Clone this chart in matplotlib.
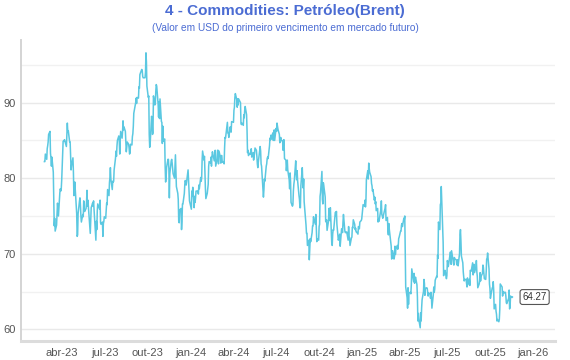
"""Brent front-month price line chart (Portuguese labels)."""

import matplotlib
matplotlib.use("Agg")
import matplotlib.pyplot as plt
import matplotlib.dates as mdates
from matplotlib.ticker import FuncFormatter, MultipleLocator, NullFormatter
import pandas as pd

plt.rcParams["font.family"] = ["Liberation Sans", "DejaVu Sans"]

TITLE = "4 - Commodities: Petróleo(Brent)"
SUBTITLE = "(Valor em USD do primeiro vencimento em mercado futuro)"

# month abbreviations for the x tick labels
pt_months = {1: "jan", 4: "abr", 7: "jul", 10: "out"}

# trading days per month and the price read for each day
months = [
    "2023-02", "2023-03", "2023-04", "2023-05", "2023-06", "2023-07",
    "2023-08", "2023-09", "2023-10", "2023-11", "2023-12",
    "2024-01", "2024-02", "2024-03", "2024-04", "2024-05", "2024-06",
    "2024-07", "2024-08", "2024-09", "2024-10", "2024-11", "2024-12",
    "2025-01", "2025-02", "2025-03", "2025-04", "2025-05", "2025-06",
    "2025-07", "2025-08", "2025-09", "2025-10", "2025-11",
]
days = [
    [22, 23, 24, 27, 28],
    [1, 2, 3, 6, 7, 8, 9, 10, 13, 14, 15, 16, 17, 20, 21, 22, 23, 24, 27, 28, 29, 30, 31],
    [3, 4, 5, 6, 10, 11, 12, 13, 14, 17, 18, 19, 20, 21, 24, 25, 26, 27, 28],
    [2, 3, 4, 5, 8, 9, 10, 11, 12, 15, 16, 17, 18, 19, 22, 23, 24, 25, 26, 30, 31],
    [1, 2, 5, 6, 7, 8, 9, 12, 13, 14, 15, 16, 20, 21, 22, 23, 26, 27, 28, 29, 30],
    [3, 5, 6, 7, 10, 11, 12, 13, 14, 17, 18, 19, 20, 21, 24, 25, 26, 27, 28, 31],
    [1, 2, 3, 4, 7, 8, 9, 10, 11, 14, 15, 16, 17, 18, 21, 22, 23, 24, 25, 28, 29, 30, 31],
    [1, 5, 6, 7, 8, 11, 12, 13, 14, 15, 18, 19, 20, 21, 22, 25, 26, 27, 28, 29],
    [2, 3, 4, 5, 6, 9, 10, 11, 12, 13, 16, 17, 18, 19, 20, 23, 24, 25, 26, 27, 30, 31],
    [1, 2, 3, 6, 7, 8, 9, 10, 13, 14, 15, 16, 17, 20, 21, 22, 24, 27, 28, 29, 30],
    [1, 4, 5, 6, 7, 8, 11, 12, 13, 14, 15, 18, 19, 20, 21, 22, 26, 27, 28, 29],
    [2, 3, 4, 5, 8, 9, 10, 11, 12, 16, 17, 18, 19, 22, 23, 24, 25, 26, 29, 30, 31],
    [1, 2, 5, 6, 7, 8, 9, 12, 13, 14, 15, 16, 20, 21, 22, 23, 26, 27, 28, 29],
    [1, 4, 5, 6, 7, 8, 11, 12, 13, 14, 15, 18, 19, 20, 21, 22, 25, 26, 27, 28],
    [1, 2, 3, 4, 5, 8, 9, 10, 11, 12, 15, 16, 17, 18, 19, 22, 23, 24, 25, 26, 29, 30],
    [1, 2, 3, 6, 7, 8, 9, 10, 13, 14, 15, 16, 17, 20, 21, 22, 23, 24, 28, 29, 30, 31],
    [3, 4, 5, 6, 7, 10, 11, 12, 13, 14, 17, 18, 19, 20, 21, 24, 25, 26, 27, 28],
    [1, 2, 3, 5, 8, 9, 10, 11, 12, 15, 16, 17, 18, 19, 22, 23, 24, 25, 26, 29, 30, 31],
    [1, 2, 5, 6, 7, 8, 9, 12, 13, 14, 15, 16, 19, 20, 21, 22, 23, 26, 27, 28, 29, 30],
    [3, 4, 5, 6, 9, 10, 11, 12, 13, 16, 17, 18, 19, 20, 23, 24, 25, 26, 27, 30],
    [1, 2, 3, 4, 7, 8, 9, 10, 11, 14, 15, 16, 17, 18, 21, 22, 23, 24, 25, 28, 29, 30, 31],
    [1, 4, 5, 6, 7, 8, 11, 12, 13, 14, 15, 18, 19, 20, 21, 22, 25, 26, 27, 29],
    [2, 3, 4, 5, 6, 9, 10, 11, 12, 13, 16, 17, 18, 19, 20, 23, 24, 26, 27, 30, 31],
    [2, 3, 6, 7, 8, 9, 10, 13, 14, 15, 16, 17, 20, 21, 22, 23, 24, 27, 28, 29, 30, 31],
    [3, 4, 5, 6, 7, 10, 11, 12, 13, 14, 18, 19, 20, 21, 24, 25, 26, 27, 28],
    [3, 4, 5, 6, 7, 10, 11, 12, 13, 14, 17, 18, 19, 20, 21, 24, 25, 26, 27, 28, 31],
    [1, 2, 3, 4, 7, 8, 9, 10, 11, 14, 15, 16, 17, 21, 22, 23, 24, 25, 28, 29, 30],
    [1, 2, 5, 6, 7, 8, 9, 12, 13, 14, 15, 16, 19, 20, 21, 22, 23, 26, 27, 28, 29, 30],
    [2, 3, 4, 5, 6, 9, 10, 11, 12, 13, 16, 17, 18, 19, 20, 23, 24, 25, 26, 27, 30],
    [1, 2, 3, 4, 7, 8, 9, 10, 11, 14, 15, 16, 17, 18, 21, 22, 23, 24, 25, 28, 29, 30, 31],
    [1, 4, 5, 6, 7, 8, 11, 12, 13, 14, 15, 18, 19, 20, 21, 22, 25, 26, 27, 28, 29],
    [1, 2, 3, 4, 5, 8, 9, 10, 11, 12, 15, 16, 17, 18, 19, 22, 23, 24, 25, 26, 29, 30],
    [1, 2, 3, 6, 7, 8, 9, 10, 13, 14, 15, 16, 17, 20, 21, 22, 23, 24, 27, 28, 29, 30, 31],
    [3, 4, 5, 6, 7, 10, 11, 12, 13, 14, 17, 18],
]
brent = [
    [82.2, 82.2, 83.2, 82.5, 83.9],
    [84.3, 84.8, 85.8, 86.2, 83.3, 82.7, 81.6, 82.8, 80.8, 77.5, 73.7, 74.7, 73.0, 73.8, 75.3, 76.7, 75.9, 75.0, 78.1, 78.6, 78.3, 78.6, 79.8],
    [84.9, 84.9, 85.0, 85.1, 84.2, 85.6, 87.3, 86.1, 86.3, 84.8, 84.8, 83.1, 81.1, 81.7, 82.7, 80.8, 77.7, 78.4, 79.5],
    [75.3, 72.3, 72.5, 75.3, 77.0, 77.4, 76.4, 75.0, 74.2, 75.2, 74.9, 77.0, 75.9, 75.6, 76.0, 76.8, 78.4, 76.3, 77.1, 73.5, 72.7],
    [74.3, 76.1, 76.7, 76.3, 77.0, 76.0, 74.8, 71.8, 74.3, 73.2, 75.7, 76.6, 75.9, 77.1, 74.1, 73.9, 74.2, 72.3, 74.0, 74.3, 74.9],
    [74.7, 76.7, 76.5, 78.5, 77.7, 79.4, 80.1, 81.4, 79.9, 78.5, 79.6, 79.5, 79.6, 81.1, 82.7, 83.6, 82.9, 84.2, 85.0, 85.6],
    [84.9, 83.2, 85.1, 86.2, 85.3, 86.2, 87.6, 86.4, 86.8, 86.2, 84.9, 83.5, 84.1, 84.8, 84.5, 84.0, 83.2, 83.4, 84.5, 84.4, 85.5, 85.9, 86.9],
    [88.6, 90.0, 90.6, 89.9, 90.7, 90.6, 92.1, 91.9, 93.7, 93.9, 94.4, 94.3, 93.5, 93.3, 93.3, 93.3, 94.0, 96.6, 95.4, 92.2],
    [90.7, 90.9, 85.8, 84.1, 84.6, 88.2, 87.7, 85.8, 86.0, 90.9, 89.7, 89.9, 91.5, 92.4, 92.2, 89.8, 88.1, 90.1, 87.9, 90.5, 87.5, 87.4],
    [84.6, 86.9, 84.9, 85.2, 81.6, 79.5, 80.0, 81.4, 82.5, 82.5, 81.2, 77.4, 80.6, 82.3, 82.5, 82.0, 80.6, 80.0, 81.7, 83.1, 80.9],
    [78.9, 78.0, 77.2, 74.3, 74.1, 75.8, 76.0, 73.2, 74.3, 76.6, 76.6, 78.0, 79.2, 79.7, 79.4, 79.1, 81.1, 79.7, 78.4, 77.0],
    [75.9, 78.3, 77.6, 78.8, 76.1, 77.6, 76.8, 77.4, 78.3, 78.3, 77.9, 79.1, 78.6, 80.1, 79.6, 80.0, 82.4, 83.6, 82.4, 82.9, 80.6],
    [78.7, 77.3, 78.0, 78.6, 79.2, 81.6, 82.2, 82.0, 82.8, 81.6, 82.9, 83.5, 82.3, 83.0, 83.7, 81.6, 82.5, 83.7, 83.7, 81.9],
    [83.6, 82.8, 82.0, 83.0, 83.0, 82.1, 82.2, 81.9, 84.0, 85.4, 85.3, 86.9, 87.4, 86.0, 86.0, 85.4, 86.8, 86.3, 86.1, 87.5],
    [87.4, 89.0, 89.4, 90.7, 91.2, 90.4, 89.4, 90.5, 89.7, 90.5, 90.1, 90.0, 87.3, 87.1, 87.3, 87.0, 88.4, 88.0, 89.0, 89.5, 88.4, 86.3],
    [83.4, 83.7, 83.0, 83.3, 83.2, 83.6, 83.9, 82.8, 83.4, 82.4, 82.8, 83.3, 84.0, 83.7, 82.9, 81.9, 81.4, 82.1, 84.2, 83.6, 81.9, 81.6],
    [78.4, 77.5, 78.4, 79.9, 79.6, 81.6, 81.9, 82.6, 82.8, 82.6, 84.3, 85.3, 85.1, 85.7, 85.2, 86.0, 85.0, 85.3, 86.4, 85.0],
    [86.6, 86.2, 87.3, 86.5, 85.8, 84.7, 85.1, 85.4, 85.0, 84.9, 83.7, 85.1, 85.1, 82.6, 82.4, 81.0, 81.7, 82.4, 81.1, 79.8, 78.6, 80.7],
    [79.5, 76.8, 76.3, 76.5, 78.3, 79.2, 79.7, 82.3, 80.7, 79.8, 81.0, 79.7, 77.7, 77.2, 76.1, 76.1, 79.0, 81.4, 79.6, 78.7, 79.9, 76.9],
    [73.8, 72.7, 72.7, 71.1, 71.8, 69.2, 70.6, 72.0, 71.6, 72.8, 73.7, 73.7, 74.9, 74.5, 73.9, 75.2, 73.5, 71.6, 72.0, 71.8],
    [73.6, 73.9, 77.6, 78.1, 80.9, 77.2, 76.6, 79.4, 79.0, 77.5, 74.3, 74.2, 74.5, 73.1, 74.3, 76.0, 75.0, 74.4, 76.1, 71.4, 71.1, 72.6, 73.2],
    [73.1, 75.1, 75.5, 75.0, 75.6, 73.9, 71.8, 72.0, 72.3, 72.6, 71.0, 73.3, 73.3, 72.8, 74.2, 75.2, 73.0, 72.8, 72.8, 72.9],
    [71.8, 73.6, 72.3, 72.1, 71.1, 72.1, 72.2, 73.5, 73.4, 74.5, 73.9, 73.2, 73.4, 72.9, 72.9, 72.6, 73.6, 73.3, 74.2, 74.4, 74.6],
    [75.9, 76.5, 76.3, 77.1, 76.2, 76.9, 79.8, 81.0, 79.9, 82.0, 81.3, 80.8, 80.2, 79.3, 79.0, 78.3, 78.5, 77.1, 77.5, 76.6, 76.9, 75.7],
    [76.0, 74.2, 74.6, 74.3, 74.7, 75.9, 77.0, 75.2, 75.0, 74.7, 75.8, 76.0, 76.5, 74.4, 74.8, 73.0, 72.5, 74.0, 73.2],
    [71.6, 71.0, 69.3, 69.5, 70.4, 69.3, 69.6, 71.0, 69.9, 70.6, 71.1, 70.6, 71.0, 72.0, 72.2, 73.0, 73.0, 73.8, 74.0, 73.6, 74.7],
    [74.5, 75.0, 70.1, 65.6, 64.2, 62.8, 65.5, 63.3, 64.8, 64.9, 64.7, 65.9, 68.0, 66.3, 67.4, 66.1, 66.6, 66.9, 65.9, 64.3, 61.1],
    [62.1, 61.3, 60.2, 62.2, 61.1, 62.8, 63.9, 65.0, 66.6, 66.1, 64.5, 65.4, 65.5, 65.4, 64.9, 64.4, 64.8, 64.7, 64.1, 64.9, 64.2, 62.8],
    [64.6, 65.6, 64.9, 65.3, 66.5, 67.0, 66.9, 69.8, 69.4, 74.2, 73.2, 76.5, 76.7, 78.9, 77.0, 71.5, 67.1, 67.7, 67.7, 67.8, 66.7],
    [67.1, 69.1, 68.8, 68.3, 69.6, 70.2, 70.2, 68.6, 70.4, 69.2, 68.7, 68.5, 69.5, 69.3, 69.2, 68.6, 68.5, 69.2, 68.4, 70.0, 72.5, 73.2, 71.7],
    [69.7, 68.8, 67.6, 66.9, 66.4, 66.6, 66.6, 66.1, 65.6, 66.8, 65.9, 66.6, 65.8, 67.8, 67.7, 67.7, 68.8, 67.2, 68.1, 68.6, 67.5],
    [68.2, 69.1, 67.6, 67.0, 65.5, 66.0, 66.4, 67.5, 66.4, 67.0, 67.4, 68.5, 68.2, 67.4, 66.7, 66.6, 67.6, 69.3, 69.4, 70.1, 68.0, 66.0],
    [65.4, 64.1, 64.5, 65.5, 65.5, 66.3, 65.2, 62.7, 63.3, 62.4, 62.0, 61.1, 61.3, 61.0, 61.3, 62.6, 66.0, 65.9, 65.6, 64.4, 64.9, 65.0, 64.8],
    [64.9, 64.4, 63.5, 63.4, 63.6, 64.1, 65.2, 62.7, 63.0, 64.4, 64.2, 64.27],
]

records = []
for month, ds, vs in zip(months, days, brent, strict=True):
    for d, v in zip(ds, vs, strict=True):
        records.append((pd.Timestamp(f"{month}-{d:02d}"), v))
df = pd.DataFrame(records, columns=["date", "price"])

LINE = "#5bc8e1"
BLUE = "#4b6cd3"

fig = plt.figure(figsize=(5.7, 3.6), dpi=100)
ax = fig.add_axes([21 / 570, 1 - 341 / 360, (555 - 21) / 570, (341 - 40) / 360])

ax.plot(df["date"], df["price"], color=LINE, linewidth=1.1)

ax.set_xlim(pd.Timestamp("2023-01-03"), pd.Timestamp("2026-02-17"))
ax.set_ylim(58.45, 98.3)

ax.xaxis.set_major_locator(mdates.MonthLocator(bymonth=list(pt_months)))


def _fmt_date(x, pos):
    d = mdates.num2date(x)
    return f"{pt_months.get(d.month, '')}-{d.year % 100:02d}"


ax.xaxis.set_major_formatter(FuncFormatter(_fmt_date))
ax.yaxis.set_major_locator(MultipleLocator(10))
ax.yaxis.set_minor_locator(MultipleLocator(5))
ax.yaxis.set_minor_formatter(NullFormatter())

ax.set_axisbelow(True)
ax.grid(which="major", axis="y", color="#e9e9e9", linewidth=1.0)
ax.grid(which="minor", axis="y", color="#f1f1f1", linewidth=1.0)
ax.tick_params(which="both", length=0, labelsize=8, labelcolor="#555555")
ax.tick_params(axis="x", pad=5)
ax.tick_params(axis="y", pad=4)

for side in ("top", "right"):
    ax.spines[side].set_visible(False)
ax.spines["left"].set_color("#d4d4d4")
ax.spines["left"].set_linewidth(1.4)
ax.spines["bottom"].set_color("#dcdcdc")
ax.spines["bottom"].set_linewidth(2.2)

last_date = df["date"].iloc[-1]
last_val = df["price"].iloc[-1]
ax.annotate(f"{last_val:.2f}", xy=(last_date, last_val), xytext=(16, 0),
            textcoords="offset points", ha="center", va="center",
            fontsize=7, color="#333333",
            bbox=dict(boxstyle="round,pad=0.25", fc="white", ec="#555555", lw=0.8))

fig.text(0.5, 0.969, TITLE, ha="center", va="center", fontsize=11,
         fontweight="bold", color=BLUE)
fig.text(0.5, 0.922, SUBTITLE, ha="center", va="center", fontsize=7.3,
         color=BLUE)

fig.savefig("out.png", dpi=100)
plt.close(fig)
